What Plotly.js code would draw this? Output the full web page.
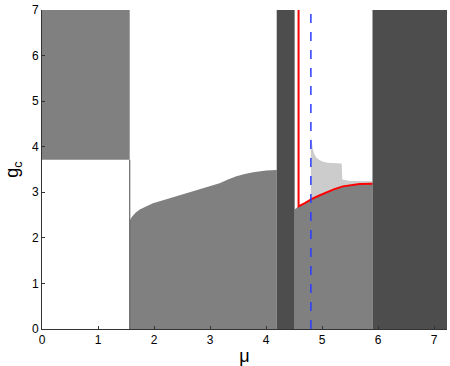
<!DOCTYPE html>
<html>
<head>
<meta charset="utf-8">
<script src="https://cdn.plot.ly/plotly-3.0.1.min.js"></script>
<style>
  html, body { margin: 0; padding: 0; background: #fff; }
  #plot { width: 450px; height: 366px; }
</style>
</head>
<body>
<div id="plot"></div>
<script>
// region boundaries (mu, g_c)
let leftTopX = [0, 1.566, 1.566, 0];
let leftTopY = [3.715, 3.715, 7, 7];

let midCurveX = [1.566, 1.6, 1.67, 1.745, 1.85, 1.98, 2.28, 2.58, 2.875, 3.17, 3.32, 3.47, 3.62, 3.77, 4.0, 4.19];
let midCurveY = [2.38, 2.45, 2.55, 2.62, 2.69, 2.76, 2.87, 2.98, 3.09, 3.20, 3.28, 3.35, 3.40, 3.44, 3.48, 3.49];

let band1 = [4.19, 4.51];
let band2 = [5.9, 7.23];

let redX = [4.58, 4.7, 4.81, 4.95, 5.08, 5.22, 5.37, 5.52, 5.67, 5.9];
let redY = [2.69, 2.77, 2.85, 2.93, 3.0, 3.07, 3.13, 3.16, 3.18, 3.19];

let lightTopX = [4.8, 4.815, 4.835, 4.86, 4.9, 4.95, 5.02, 5.1, 5.35, 5.36, 5.5, 5.9];
let lightTopY = [4.25, 4.08, 3.95, 3.84, 3.76, 3.71, 3.67, 3.65, 3.63, 3.28, 3.25, 3.24];

let dashX = 4.8;

const dark = "#4d4d4d", mid = "#808080", light = "#cccccc";

function poly(xs, ys, color) {
    return {
        x: xs, y: ys, type: "scatter", mode: "lines",
        fill: "toself", fillcolor: color,
        line: { width: 0, color: color },
        hoverinfo: "skip", showlegend: false
    };
}

let traces = [];

// upper left block
traces.push(poly(leftTopX, leftTopY, mid));

// middle gray under the curve
traces.push(poly(
    [1.566].concat(midCurveX, [4.19]),
    [0].concat(midCurveY, [0]),
    mid));

// right gray below the red curve
traces.push(poly(
    [4.51, 4.51].concat(redX, [5.9]),
    [0, 2.62].concat(redY, [0]),
    mid));

// light gray wedge between red curve and its upper edge
let redBackX = [], redBackY = [];
for (let i = redX.length - 1; i >= 0; i--) {
    if (redX[i] >= dashX) { redBackX.push(redX[i]); redBackY.push(redY[i]); }
}
traces.push(poly(
    lightTopX.concat(redBackX, [dashX]),
    lightTopY.concat(redBackY, [2.84]),
    light));

// dark bands
[band1, band2].forEach(b => {
    traces.push(poly([b[0], b[1], b[1], b[0]], [0, 0, 7, 7], dark));
});

// edge of the white box
traces.push({
    x: [1.566, 1.566], y: [0, 3.715], type: "scatter", mode: "lines",
    line: { color: "#666", width: 1.2 }, hoverinfo: "skip", showlegend: false
});

// red boundary
traces.push({
    x: [redX[0]].concat(redX), y: [7].concat(redY),
    type: "scatter", mode: "lines",
    line: { color: "#ff0000", width: 2 },
    hoverinfo: "skip", showlegend: false
});

// dashed blue line
traces.push({
    x: [dashX, dashX], y: [0, 7], type: "scatter", mode: "lines",
    line: { color: "#2a3cff", width: 1.5, dash: "dash" },
    hoverinfo: "skip", showlegend: false
});

let layout = {
    width: 450, height: 366,
    margin: { l: 42, r: 3, t: 10, b: 37 },
    paper_bgcolor: "#fff", plot_bgcolor: "#fff",
    font: { family: "Liberation Sans, Arial, sans-serif", color: "#000", size: 12 },
    xaxis: {
        range: [0, 7.23], dtick: 1, tick0: 0,
        ticks: "inside", ticklen: 3, tickcolor: "#333",
        showline: true, linecolor: "#333", linewidth: 1,
        showgrid: false, zeroline: false,
        title: { text: "μ", font: { size: 18 }, standoff: 4 }
    },
    yaxis: {
        range: [0, 7], dtick: 1, tick0: 0,
        ticks: "inside", ticklen: 3, tickcolor: "#333",
        showline: true, linecolor: "#333", linewidth: 1,
        showgrid: false, zeroline: false,
        title: { text: "g<sub>c</sub>", font: { size: 18 }, standoff: 8 }
    }
};

Plotly.newPlot("plot", traces, layout, { displayModeBar: false, staticPlot: true });
</script>
</body>
</html>
